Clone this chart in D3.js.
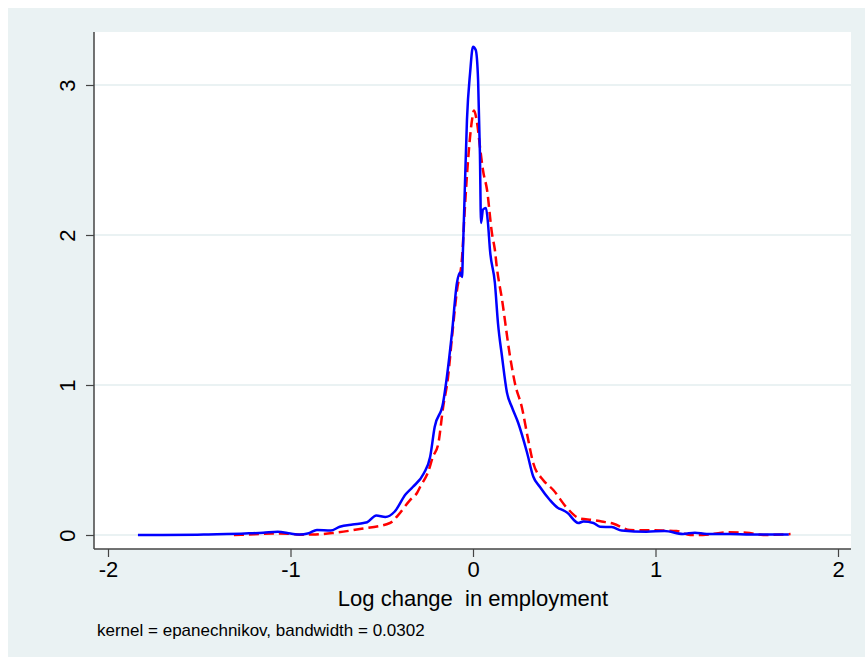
<!DOCTYPE html>
<html>
<head>
<meta charset="utf-8">
<script src="https://cdn.jsdelivr.net/npm/d3@7"></script>
<style>
  body { margin: 0; background: #fff; }
  text { font-family: "Liberation Sans", Arial, sans-serif; fill: #000; }
</style>
</head>
<body>
<div id="chart"></div>
<script>
// density estimates
const blueX = [-1.836, -1.7, -1.51, -1.45, -1.35, -1.25, -1.15, -1.07, -1.0, -0.95, -0.9, -0.855, -0.78, -0.73, -0.66, -0.6, -0.58, -0.53, -0.48, -0.43, -0.37, -0.33, -0.27, -0.235, -0.21, -0.164, -0.143, -0.115, -0.088, -0.071, -0.06, -0.055, -0.045, -0.033, -0.016, 0, 0.015, 0.028, 0.038, 0.044, 0.055, 0.071, 0.082, 0.093, 0.12, 0.137, 0.159, 0.186, 0.214, 0.247, 0.296, 0.33, 0.367, 0.42, 0.466, 0.49, 0.515, 0.577, 0.605, 0.66, 0.696, 0.76, 0.815, 0.95, 1.05, 1.15, 1.216, 1.28, 1.41, 1.52, 1.73];
const blueY = [0, 0, 0.002, 0.004, 0.006, 0.01, 0.015, 0.022, 0.01, 0.003, 0.012, 0.033, 0.03, 0.055, 0.07, 0.08, 0.085, 0.13, 0.12, 0.155, 0.27, 0.32, 0.41, 0.52, 0.72, 0.88, 1.055, 1.35, 1.68, 1.75, 1.72, 1.9, 2.3, 2.77, 3.08, 3.255, 3.233, 3.03, 2.54, 2.08, 2.17, 2.18, 2.08, 1.9, 1.68, 1.41, 1.19, 0.95, 0.85, 0.75, 0.55, 0.39, 0.32, 0.235, 0.18, 0.167, 0.15, 0.08, 0.09, 0.08, 0.055, 0.053, 0.03, 0.022, 0.027, 0.007, 0.015, 0.007, 0.007, 0.003, 0.003];

const redX = [-1.31, -1.2, -1.1, -1.0, -0.95, -0.88, -0.77, -0.62, -0.455, -0.41, -0.345, -0.307, -0.29, -0.246, -0.22, -0.19, -0.164, -0.137, -0.115, -0.088, -0.06, -0.044, -0.027, -0.005, 0.005, 0.022, 0.038, 0.055, 0.077, 0.104, 0.12, 0.13, 0.159, 0.203, 0.23, 0.268, 0.3, 0.33, 0.384, 0.44, 0.515, 0.586, 0.66, 0.705, 0.77, 0.86, 1.04, 1.115, 1.19, 1.26, 1.39, 1.5, 1.59, 1.74];
const redY = [0, 0.005, 0.01, 0.008, 0.002, 0.003, 0.013, 0.04, 0.08, 0.133, 0.233, 0.28, 0.32, 0.42, 0.52, 0.61, 0.85, 1.05, 1.32, 1.63, 1.85, 2.19, 2.5, 2.77, 2.83, 2.75, 2.59, 2.43, 2.3, 2.01, 1.9, 1.79, 1.57, 1.19, 1.01, 0.85, 0.65, 0.48, 0.367, 0.3, 0.18, 0.11, 0.1, 0.09, 0.075, 0.033, 0.03, 0.027, 0, 0, 0.018, 0.015, 0, 0.006];

const xTicks = [-2, -1, 0, 1, 2];
const yTicks = [0, 1, 2, 3];
const xTitle = "Log change  in employment";
const note = "kernel = epanechnikov, bandwidth = 0.0302";

const W = 865, H = 659;
const plot = { left: 94, top: 32, right: 851, bottom: 549 };

const svg = d3.select("#chart").append("svg")
    .attr("width", W)
    .attr("height", H);

// stata-ish background
svg.append("rect")
    .attr("x", 8).attr("y", 8)
    .attr("width", W - 8).attr("height", 649)
    .attr("fill", "#eaf2f3");

svg.append("rect")
    .attr("x", plot.left).attr("y", plot.top)
    .attr("width", plot.right - plot.left).attr("height", plot.bottom - plot.top)
    .attr("fill", "#fff");

const x = d3.scaleLinear().domain([-2, 2]).range([108, 838]);
const y = d3.scaleLinear().domain([0, 3]).range([535, 85]);

// plain hyphen minus, no decimals
const fmt = d => String(d);

// grid
svg.append("g")
    .selectAll("line")
    .data(yTicks)
    .enter()
    .append("line")
    .attr("x1", plot.left).attr("x2", plot.right)
    .attr("y1", d => y(d)).attr("y2", d => y(d))
    .attr("stroke", "#eaf2f3")
    .attr("stroke-width", 2);

// axes
const yAxis = svg.append("g")
    .attr("transform", `translate(${plot.left},0)`)
    .call(d3.axisLeft(y).tickValues(yTicks).tickFormat(fmt).tickSize(8).tickSizeOuter(0));
yAxis.select(".domain").attr("d", `M0,${plot.top}V${plot.bottom}`);

const xAxis = svg.append("g")
    .attr("transform", `translate(0,${plot.bottom})`)
    .call(d3.axisBottom(x).tickValues(xTicks).tickFormat(fmt).tickSize(8).tickPadding(4).tickSizeOuter(0));
xAxis.select(".domain").attr("d", `M${plot.left},0H${plot.right}`);

svg.selectAll(".domain").attr("stroke", "#444").attr("stroke-width", 1.5);
svg.selectAll(".tick line").attr("stroke", "#444").attr("stroke-width", 1.2);

xAxis.selectAll("text")
    .style("font-size", "22px")
    .style("font-family", "'Liberation Sans', Arial, sans-serif")
    .attr("fill", "#000");

yAxis.selectAll(".tick text")
    .style("font-size", "22px")
    .style("font-family", "'Liberation Sans', Arial, sans-serif")
    .attr("fill", "#000")
    .attr("text-anchor", "middle")
    .attr("x", null)
    .attr("dy", "0em")
    .attr("y", 0)
    .attr("transform", "translate(-19,0) rotate(-90)");

// lines
const line = d3.line()
    .x(d => x(d[0]))
    .y(d => y(d[1]))
    .curve(d3.curveMonotoneX);

svg.append("path")
    .datum(redX.map((v, i) => [v, redY[i]]))
    .attr("d", line)
    .attr("fill", "none")
    .attr("stroke", "#ff0000")
    .attr("stroke-width", 2.5)
    .attr("stroke-dasharray", "10,5");

svg.append("path")
    .datum(blueX.map((v, i) => [v, blueY[i]]))
    .attr("d", line)
    .attr("fill", "none")
    .attr("stroke", "#0000ff")
    .attr("stroke-width", 2.5);

// labels
svg.append("text")
    .attr("x", x(0))
    .attr("y", 606)
    .attr("text-anchor", "middle")
    .style("font-size", "22px")
    .style("white-space", "pre")
    .text(xTitle);

svg.append("text")
    .attr("x", 97)
    .attr("y", 636)
    .style("font-size", "17px")
    .text(note);
</script>
</body>
</html>
